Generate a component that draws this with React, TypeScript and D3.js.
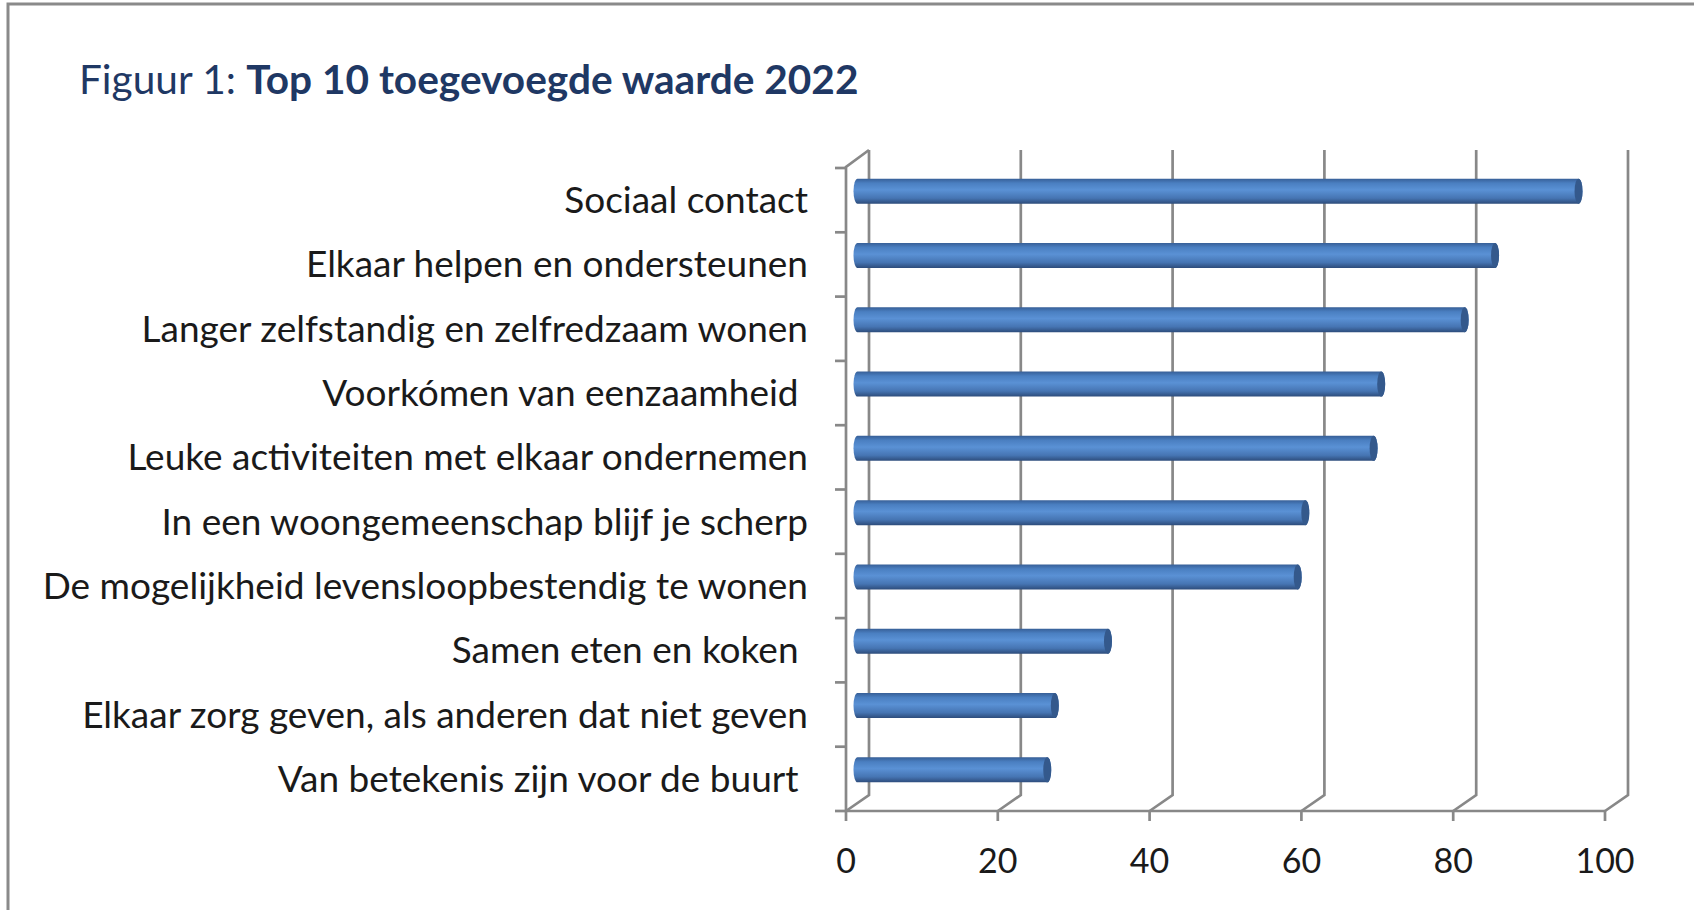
import * as d3 from "d3";

const categories = [
  "Sociaal contact",
  "Elkaar helpen en ondersteunen",
  "Langer zelfstandig en zelfredzaam wonen",
  "Voorkómen van eenzaamheid ",
  "Leuke activiteiten met elkaar ondernemen",
  "In een woongemeenschap blijf je scherp",
  "De mogelijkheid levensloopbestendig te wonen",
  "Samen eten en koken ",
  "Elkaar zorg geven, als anderen dat niet geven",
  "Van betekenis zijn voor de buurt ",
];
const values = [95, 84, 80, 69, 68, 59, 58, 33, 26, 25];
const ticks = [0, 20, 40, 60, 80, 100];

const W = 1694, H = 910;
// front plane of the 3d plot
const left = 846, right = 1605, top = 168, bottom = 811;
// depth offset of the back wall
const dx = 23, dy = -16;
const grid = "#888888";
const font = "Lato, 'Open Sans', sans-serif";

export default function App() {
  const x = d3.scaleLinear().domain([0, 100]).range([left, right]);
  const y = d3.scaleBand().domain(categories).range([top, bottom]);
  const r = 12.5, rx = 4;

  return (
    <div style={{ position: "absolute", left: 0, top: 0 }}>
      <svg width={W} height={H} style={{ display: "block", background: "#fff" }}>
        <defs>
          <linearGradient id="cyl" x1="0" y1="0" x2="0" y2="1">
            <stop offset="0" stopColor="#375f97" />
            <stop offset="0.18" stopColor="#4a7fc1" />
            <stop offset="0.45" stopColor="#5a91d5" />
            <stop offset="0.78" stopColor="#4675b3" />
            <stop offset="1" stopColor="#2d4c7b" />
          </linearGradient>
        </defs>

        {/* frame */}
        <path d={`M8,${H} L8,4 L${W},4`} fill="none" stroke="#8a8a8a" strokeWidth={3} />

        <text x={79} y={94} fill="#1f3864" fontFamily={font} fontSize={40.6}>
          <tspan>Figuur 1: </tspan>
          <tspan fontWeight="bold">Top 10 toegevoegde waarde 2022</tspan>
        </text>

        {/* back wall gridlines + floor diagonals */}
        {ticks.map((t) => (
          <path key={t}
            d={`M${x(t)},${bottom} L${x(t) + dx},${bottom + dy} L${x(t) + dx},${top + dy - 2}`}
            fill="none" stroke={grid} strokeWidth={2.7} />
        ))}

        {/* left axis */}
        <path d={`M${left + dx},${top + dy - 2} L${left},${top - 1} L${left},${bottom}`}
          fill="none" stroke={grid} strokeWidth={2.7} />
        {categories.concat([""]).map((c, i) => (
          <line key={i} x1={left - 11} x2={left} y1={top + y.step() * i} y2={top + y.step() * i}
            stroke={grid} strokeWidth={2.7} />
        ))}

        {/* bottom axis */}
        <line x1={left} x2={right} y1={bottom} y2={bottom} stroke={grid} strokeWidth={2.7} />
        {ticks.map((t) => (
          <g key={t}>
            <line x1={x(t)} x2={x(t)} y1={bottom} y2={bottom + 10} stroke={grid} strokeWidth={2.7} />
            <text x={x(t)} y={bottom + 62} textAnchor="middle" fontFamily={font} fontSize={34} fill="#1a1a1a">
              {t}
            </text>
          </g>
        ))}

        {/* category labels */}
        {categories.map((c) => (
          <text key={c} x={808} y={y(c)! + y.bandwidth() / 2} dy="0.35em" textAnchor="end"
            fontFamily={font} fontSize={37} fill="#1a1a1a" style={{ whiteSpace: "pre" }}>
            {c}
          </text>
        ))}

        {/* cylinders */}
        {categories.map((c, i) => {
          const cy = y(c)! + y.bandwidth() / 2 - 9;
          const x0 = x(0) + dx / 2;
          const x1 = x(values[i]) + dx / 2;
          return (
            <g key={c}>
              <path
                d={`M${x0},${cy - r} L${x1},${cy - r} A${rx},${r} 0 0 1 ${x1},${cy + r} L${x0},${cy + r} A${rx},${r} 0 0 1 ${x0},${cy - r} Z`}
                fill="url(#cyl)" />
              <ellipse cx={x1} cy={cy} rx={rx} ry={r} fill="#34598c" />
            </g>
          );
        })}
      </svg>
    </div>
  );
}
